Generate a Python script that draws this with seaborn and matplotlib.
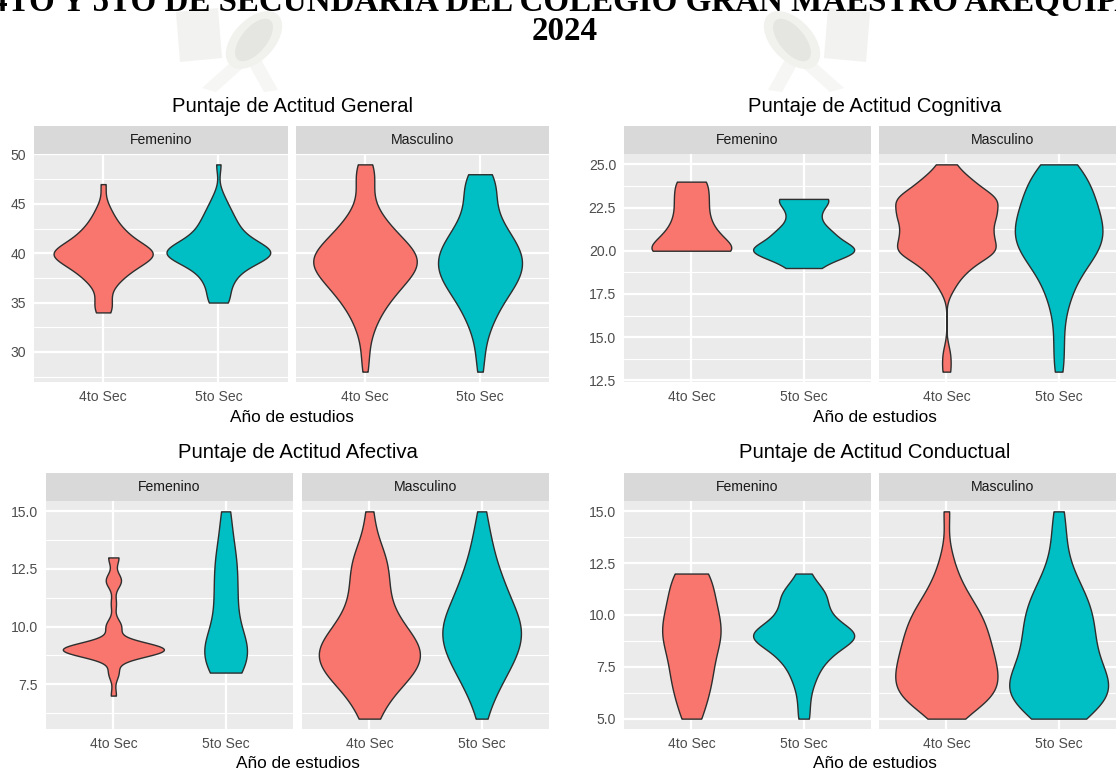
import numpy as np
import pandas as pd
import matplotlib
matplotlib.use("Agg")
import matplotlib.pyplot as plt
from matplotlib.patches import Polygon, Ellipse
import seaborn as sns

sns.set_theme(style="white")
plt.rcParams["font.family"] = ["Liberation Sans", "DejaVu Sans"]

# ---------------------------------------------------------------- data
YEARS = ["4to Sec", "5to Sec"]
SEXES = ["Femenino", "Masculino"]
COLORS = {"4to Sec": "#F8766D", "5to Sec": "#00BFC4"}

TITLES = {
    "general": "Puntaje de Actitud General",
    "cognitive": "Puntaje de Actitud Cognitiva",
    "affective": "Puntaje de Actitud Afectiva",
    "conductual": "Puntaje de Actitud Conductual",
}
X_LABEL = "Año de estudios"
HEADER_LINE = "4TO Y 5TO DE SECUNDARIA DEL COLEGIO GRAN MAESTRO AREQUIPA"
HEADER_YEAR = "2024"

# number of students per score  {score: count}
general_fem_4to = {34: 2, 35: 2, 36: 1, 37: 3, 38: 5, 39: 8, 40: 13, 41: 7, 42: 5, 43: 3, 44: 2, 45: 1, 47: 1}
general_fem_5to = {35: 3, 36: 2, 37: 3, 38: 4, 39: 7, 40: 15, 41: 8, 42: 5, 43: 4, 44: 3, 45: 2, 46: 1, 49: 1}
general_mas_4to = {28: 1, 29: 1, 30: 1, 31: 1, 32: 2, 33: 3, 34: 4, 35: 6, 36: 8, 37: 10, 38: 13, 39: 15, 40: 14,
                   41: 11, 42: 8, 43: 6, 44: 4, 45: 2, 46: 2, 47: 2, 48: 3, 49: 3}
general_mas_5to = {28: 1, 29: 1, 30: 1, 31: 1, 32: 2, 33: 3, 34: 4, 35: 5, 36: 7, 37: 9, 38: 10, 39: 11, 40: 10,
                   41: 9, 42: 7, 43: 5, 44: 4, 45: 3, 46: 4, 47: 4, 48: 5}

cognitive_fem_4to = {20: 6, 21: 3, 22: 2, 23: 2, 24: 2}
cognitive_fem_5to = {19: 2, 20: 8, 21: 4, 22: 2, 23: 4}
cognitive_mas_4to = {13: 1, 14: 1, 18: 2, 19: 5, 20: 12, 21: 10, 22: 11, 23: 12, 24: 6, 25: 2}
cognitive_mas_5to = {13: 1, 14: 1, 15: 1, 16: 1, 17: 2, 18: 3, 19: 5, 20: 8, 21: 9, 22: 8, 23: 7, 24: 6, 25: 4}

affective_fem_4to = {7: 1, 8: 2, 9: 20, 10: 3, 11: 1, 12: 3, 13: 2}
affective_fem_5to = {8: 3, 9: 5, 10: 2, 11: 2, 12: 2, 13: 2, 14: 1, 15: 1}
affective_mas_4to = {6: 2, 7: 4, 8: 10, 9: 12, 10: 7, 11: 4, 12: 4, 13: 4, 14: 1, 15: 1}
affective_mas_5to = {6: 1, 7: 3, 8: 6, 9: 9, 10: 10, 11: 7, 12: 5, 13: 3, 14: 2, 15: 1}

conductual_fem_4to = {5: 2, 6: 3, 7: 4, 8: 4, 9: 6, 10: 5, 11: 4, 12: 4}
conductual_fem_5to = {5: 1, 6: 1, 7: 2, 8: 4, 9: 10, 10: 4, 11: 4, 12: 1}
conductual_mas_4to = {5: 2, 6: 10, 7: 10, 8: 9, 9: 8, 10: 7, 11: 4, 12: 2, 13: 1, 15: 1}
conductual_mas_5to = {5: 3, 6: 9, 7: 7, 8: 5, 9: 5, 10: 5, 11: 4, 12: 2, 13: 1, 14: 1, 15: 1}

Y_TICKS = {
    "general": [30, 35, 40, 45, 50],
    "cognitive": [12.5, 15.0, 17.5, 20.0, 22.5, 25.0],
    "affective": [7.5, 10.0, 12.5, 15.0],
    "conductual": [5.0, 7.5, 10.0, 12.5, 15.0],
}
Y_FMT = {"general": "{:.0f}", "cognitive": "{:.1f}", "affective": "{:.1f}", "conductual": "{:.1f}"}

PANEL_DATA = {
    "general": {("Femenino", "4to Sec"): general_fem_4to, ("Femenino", "5to Sec"): general_fem_5to,
                ("Masculino", "4to Sec"): general_mas_4to, ("Masculino", "5to Sec"): general_mas_5to},
    "cognitive": {("Femenino", "4to Sec"): cognitive_fem_4to, ("Femenino", "5to Sec"): cognitive_fem_5to,
                  ("Masculino", "4to Sec"): cognitive_mas_4to, ("Masculino", "5to Sec"): cognitive_mas_5to},
    "affective": {("Femenino", "4to Sec"): affective_fem_4to, ("Femenino", "5to Sec"): affective_fem_5to,
                  ("Masculino", "4to Sec"): affective_mas_4to, ("Masculino", "5to Sec"): affective_mas_5to},
    "conductual": {("Femenino", "4to Sec"): conductual_fem_4to, ("Femenino", "5to Sec"): conductual_fem_5to,
                   ("Masculino", "4to Sec"): conductual_mas_4to, ("Masculino", "5to Sec"): conductual_mas_5to},
}

# ---------------------------------------------------------------- style
# violin widths (fraction of a category slot) and kernel bandwidth multipliers
VIOLIN_WIDTH = {
    "general": {("Femenino", "4to Sec"): 0.86, ("Femenino", "5to Sec"): 0.90,
                ("Masculino", "4to Sec"): 0.90, ("Masculino", "5to Sec"): 0.73},
    "cognitive": {("Femenino", "4to Sec"): 0.71, ("Femenino", "5to Sec"): 0.90,
                  ("Masculino", "4to Sec"): 0.91, ("Masculino", "5to Sec"): 0.78},
    "affective": {("Femenino", "4to Sec"): 0.90, ("Femenino", "5to Sec"): 0.38,
                  ("Masculino", "4to Sec"): 0.90, ("Masculino", "5to Sec"): 0.70},
    "conductual": {("Femenino", "4to Sec"): 0.52, ("Femenino", "5to Sec"): 0.90,
                   ("Masculino", "4to Sec"): 0.91, ("Masculino", "5to Sec"): 0.88},
}
BW_ADJUST = {
    "general": {("Femenino", "4to Sec"): 0.75, ("Femenino", "5to Sec"): 0.75,
                ("Masculino", "4to Sec"): 0.85, ("Masculino", "5to Sec"): 0.9},
    "cognitive": {("Femenino", "4to Sec"): 0.7, ("Femenino", "5to Sec"): 0.7,
                  ("Masculino", "4to Sec"): 0.6, ("Masculino", "5to Sec"): 0.75},
    "affective": {("Femenino", "4to Sec"): 0.45, ("Femenino", "5to Sec"): 0.7,
                  ("Masculino", "4to Sec"): 0.85, ("Masculino", "5to Sec"): 0.9},
    "conductual": {("Femenino", "4to Sec"): 0.8, ("Femenino", "5to Sec"): 0.7,
                   ("Masculino", "4to Sec"): 0.85, ("Masculino", "5to Sec"): 0.85},
}

# panel geometry in pixels: facet columns (x0, x1), rows (strip top, strip bottom, panel bottom)
LAYOUT = {
    "general": dict(cols=[(34, 287.5), (296, 549)], rows=(126, 154, 382), cx=292, title_y=107, xlab_y=417),
    "cognitive": dict(cols=[(624, 871), (879, 1126)], rows=(126, 154, 382), cx=875, title_y=107, xlab_y=417),
    "affective": dict(cols=[(46, 293), (302, 549)], rows=(473, 501, 729), cx=298, title_y=453, xlab_y=763),
    "conductual": dict(cols=[(624, 871), (879, 1126)], rows=(473, 501, 729), cx=875, title_y=453, xlab_y=763),
}

W, H = 1116, 772
PANEL_BG = "#EBEBEB"
STRIP_BG = "#D9D9D9"

fig = plt.figure(figsize=(W / 100, H / 100), dpi=100)
fig.patch.set_facecolor("white")


def px_rect(x0, y0, x1, y1):
    return [x0 / W, 1 - y1 / H, (x1 - x0) / W, (y1 - y0) / H]


def fx(x):
    return x / W


def fy(y):
    return 1 - y / H


# faint school emblem behind the header
def emblem(cx, mirror):
    s = -1 if mirror else 1
    def P(dx, dy):
        return (fx(cx + s * dx), fy(dy))
    fig.patches.append(Polygon([P(-62, 12), P(-20, 8), P(-16, 58), P(-58, 62)], closed=True,
                               transform=fig.transFigure, facecolor="#F2F2F0", edgecolor="none", zorder=0))
    fig.patches.append(Polygon([P(0, 56), P(14, 60), P(-22, 92), P(-36, 88)], closed=True,
                               transform=fig.transFigure, facecolor="#F6F6F4", edgecolor="none", zorder=0))
    fig.patches.append(Polygon([P(6, 56), P(20, 54), P(40, 90), P(26, 92)], closed=True,
                               transform=fig.transFigure, facecolor="#F6F6F4", edgecolor="none", zorder=0))
    fig.patches.append(Ellipse((fx(cx + s * 16), fy(40)), 46 / W, 62 / H, angle=-25 * s,
                               transform=fig.transFigure, facecolor="#F1F1EE", edgecolor="none", zorder=0))
    fig.patches.append(Ellipse((fx(cx + s * 16), fy(40)), 28 / W, 46 / H, angle=-25 * s,
                               transform=fig.transFigure, facecolor="#E5E5E1", edgecolor="none", zorder=0))


emblem(238, False)
emblem(808, True)

fig.text(fx(565), fy(11), HEADER_LINE, ha="center", va="baseline", fontsize=23.8,
         fontweight="bold", family=["Liberation Serif", "DejaVu Serif"], color="black")
fig.text(fx(565), fy(40), HEADER_YEAR, ha="center", va="baseline", fontsize=23.8,
         fontweight="bold", family=["Liberation Serif", "DejaVu Serif"], color="black")


def expand(counts):
    return np.repeat(np.array(list(counts.keys()), dtype=float), list(counts.values()))


for key, spec in LAYOUT.items():
    groups = PANEL_DATA[key]
    all_vals = np.concatenate([expand(c) for c in groups.values()])
    lo, hi = all_vals.min(), all_vals.max()
    pad = 0.05 * (hi - lo)
    ylim = (lo - pad, hi + pad)
    majors = Y_TICKS[key]
    step = majors[1] - majors[0]
    minors = [m for m in np.arange(majors[0] - step / 2, majors[-1] + step, step) if ylim[0] <= m <= ylim[1]]
    top, strip_bottom, bottom = spec["rows"]

    for j, sex in enumerate(SEXES):
        x0, x1 = spec["cols"][j]
        ax = fig.add_axes(px_rect(x0, strip_bottom, x1, bottom))
        ax.set_facecolor(PANEL_BG)
        for year in YEARS:
            vals = expand(groups[(sex, year)])
            df = pd.DataFrame({"year": [year] * len(vals), "score": vals})
            sns.violinplot(data=df, x="year", y="score", order=YEARS, color=COLORS[year],
                           saturation=1, inner=None, cut=0, density_norm="width",
                           width=VIOLIN_WIDTH[key][(sex, year)], bw_adjust=BW_ADJUST[key][(sex, year)],
                           gridsize=512, linewidth=1.0, linecolor="#2E2E2E", ax=ax)
        ax.set_xlim(-0.6, 1.6)
        ax.set_ylim(*ylim)
        ax.set_xticks([0, 1])
        ax.set_xticklabels(YEARS)
        ax.set_yticks(majors)
        ax.set_yticks(minors, minor=True)
        ax.set_xlabel("")
        ax.set_ylabel("")
        for sp in ax.spines.values():
            sp.set_visible(False)
        ax.set_axisbelow(True)
        ax.grid(True, which="major", axis="both", color="white", linewidth=1.6)
        ax.grid(True, which="minor", axis="y", color="white", linewidth=0.8)
        ax.tick_params(axis="both", which="major", length=3.2, width=0.8, color="#333333", pad=2.5,
                       labelsize=10.1, labelcolor="#4D4D4D")
        ax.tick_params(axis="both", which="minor", length=0)
        if j == 0:
            ax.set_yticklabels([Y_FMT[key].format(t) for t in majors])
        else:
            ax.tick_params(axis="y", which="both", left=False, labelleft=False)

        strip = fig.add_axes(px_rect(x0, top, x1, strip_bottom))
        strip.set_facecolor(STRIP_BG)
        strip.set_xticks([])
        strip.set_yticks([])
        for sp in strip.spines.values():
            sp.set_visible(False)
        strip.text(0.5, 0.5, sex, ha="center", va="center", fontsize=10.1, color="#1A1A1A",
                   transform=strip.transAxes)

    fig.text(fx(spec["cx"]), fy(spec["title_y"]), TITLES[key], ha="center", va="center",
             fontsize=14.6, color="black")
    fig.text(fx(spec["cx"]), fy(spec["xlab_y"]), X_LABEL, ha="center", va="center",
             fontsize=12.4, color="black")

fig.savefig("out.png", dpi=100, facecolor="white")
